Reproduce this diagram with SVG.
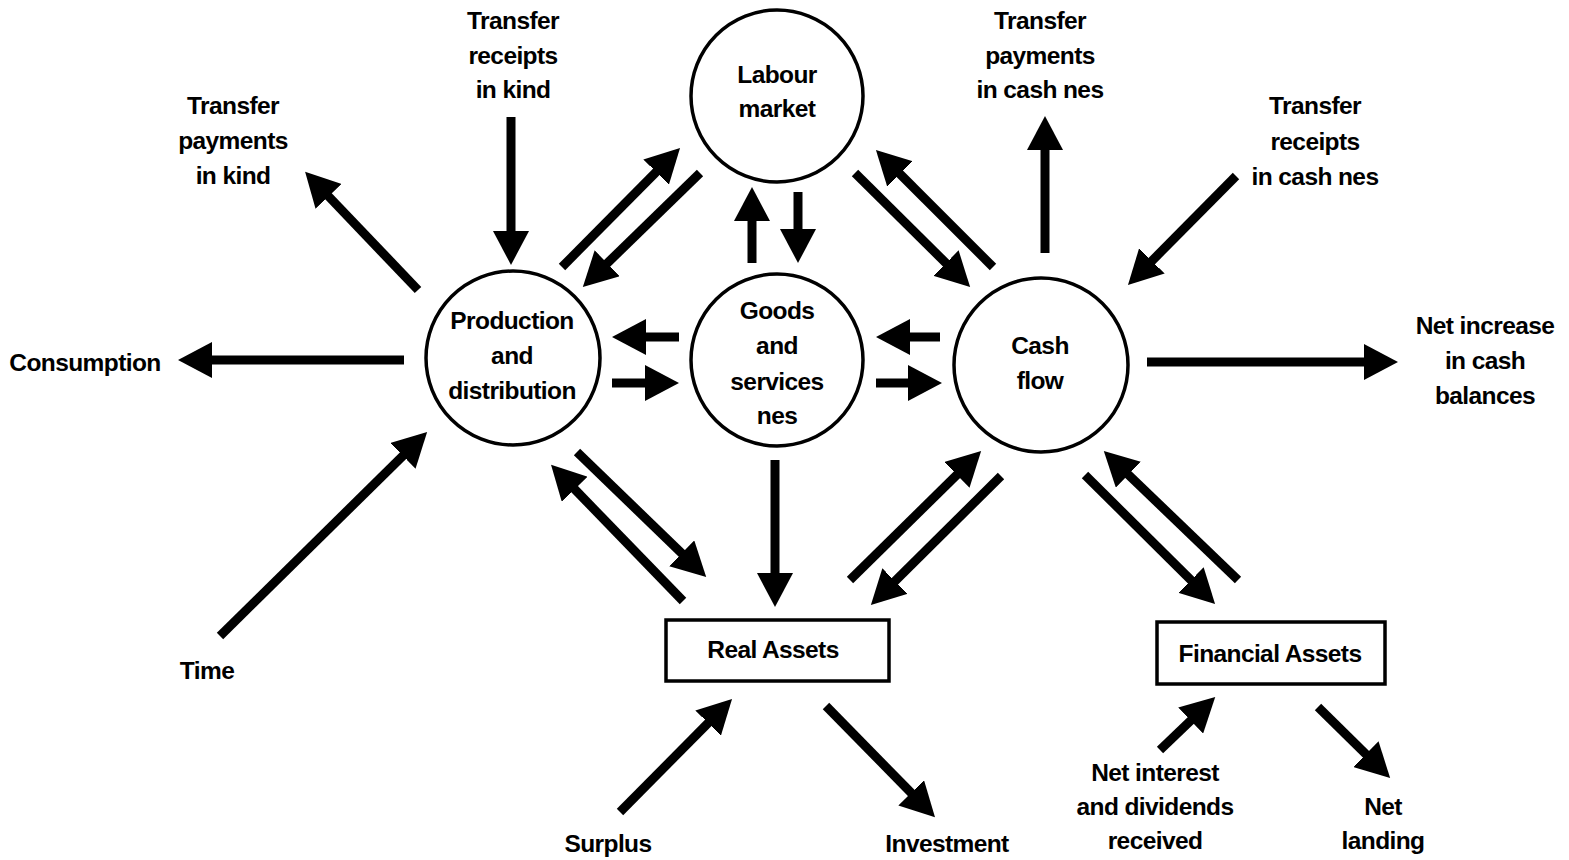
<svg xmlns="http://www.w3.org/2000/svg" width="1569" height="860" viewBox="0 0 1569 860">
<style>
.bg{fill:#fff}
.node{fill:#fff;stroke:#000;stroke-width:3.5}
.t{font-family:"Liberation Sans",Arial,sans-serif;font-weight:bold;font-size:24.5px;letter-spacing:-0.6px;fill:#000;text-anchor:middle}
.c line{stroke:#000;stroke-width:9;marker-end:url(#ah)}
</style>
<defs>
<marker id="ah" viewBox="0 0 34 36" refX="24" refY="18" markerWidth="34" markerHeight="36" markerUnits="userSpaceOnUse" orient="auto">
<path d="M0,0 L34,18 L0,36 Z" fill="#000"/>
</marker>
</defs>
<rect class="bg" x="0" y="0" width="1569" height="860"/>

<g id="connectors" class="c">
<line x1="511" y1="117" x2="511" y2="255"/>
<line x1="418" y1="290" x2="312" y2="179"/>
<line x1="404" y1="360" x2="188" y2="360"/>
<line x1="220" y1="636" x2="420" y2="439"/>
<line x1="562" y1="267" x2="673" y2="155"/>
<line x1="700" y1="173" x2="590" y2="280"/>
<line x1="752" y1="263" x2="752" y2="197"/>
<line x1="798" y1="192" x2="798" y2="253"/>
<line x1="679" y1="337" x2="622" y2="337"/>
<line x1="612" y1="383" x2="669" y2="383"/>
<line x1="940" y1="337" x2="886" y2="337"/>
<line x1="876" y1="383" x2="932" y2="383"/>
<line x1="855" y1="173" x2="963" y2="280"/>
<line x1="993" y1="267" x2="883" y2="157"/>
<line x1="1045" y1="253" x2="1045" y2="126"/>
<line x1="1236" y1="176" x2="1135" y2="278"/>
<line x1="1147" y1="362" x2="1388" y2="362"/>
<line x1="577" y1="452" x2="699" y2="570"/>
<line x1="683" y1="601" x2="558" y2="472"/>
<line x1="775" y1="460" x2="775" y2="597"/>
<line x1="850" y1="580" x2="974" y2="458"/>
<line x1="1001" y1="476" x2="878" y2="598"/>
<line x1="1085" y1="475" x2="1208" y2="597"/>
<line x1="1238" y1="580" x2="1111" y2="458"/>
<line x1="620" y1="812" x2="725" y2="706"/>
<line x1="826" y1="706" x2="928" y2="810"/>
<line x1="1160" y1="750" x2="1208" y2="704"/>
<line x1="1318" y1="707" x2="1383" y2="771"/>
</g>

<g id="labour">
<circle class="node" cx="777" cy="96" r="86"/>
<text class="t" x="777" y="83">Labour</text>
<text class="t" x="777" y="117">market</text>
</g>
<g id="production">
<circle class="node" cx="513" cy="358" r="87"/>
<text class="t" x="512" y="329">Production</text>
<text class="t" x="512" y="364">and</text>
<text class="t" x="512" y="399">distribution</text>
</g>
<g id="goods">
<circle class="node" cx="777" cy="360" r="86"/>
<text class="t" x="777" y="319">Goods</text>
<text class="t" x="777" y="354">and</text>
<text class="t" x="777" y="390">services</text>
<text class="t" x="777" y="424">nes</text>
</g>
<g id="cash">
<circle class="node" cx="1041" cy="365" r="87"/>
<text class="t" x="1040" y="354">Cash</text>
<text class="t" x="1040" y="389">flow</text>
</g>
<g id="real">
<rect class="node" x="666" y="620" width="223" height="61"/>
<text class="t" x="773" y="658">Real Assets</text>
</g>
<g id="financial">
<rect class="node" x="1157" y="622" width="228" height="62"/>
<text class="t" x="1270" y="662">Financial Assets</text>
</g>

<g id="tr-kind">
<text class="t" x="513" y="29">Transfer</text>
<text class="t" x="513" y="64">receipts</text>
<text class="t" x="513" y="98">in kind</text>
</g>
<g id="tp-kind">
<text class="t" x="233" y="114">Transfer</text>
<text class="t" x="233" y="149">payments</text>
<text class="t" x="233" y="184">in kind</text>
</g>
<g id="tp-cash">
<text class="t" x="1040" y="29">Transfer</text>
<text class="t" x="1040" y="64">payments</text>
<text class="t" x="1040" y="98">in cash nes</text>
</g>
<g id="tr-cash">
<text class="t" x="1315" y="114">Transfer</text>
<text class="t" x="1315" y="150">receipts</text>
<text class="t" x="1315" y="185">in cash nes</text>
</g>
<g id="consumption">
<text class="t" x="85" y="371">Consumption</text>
</g>
<g id="net-increase">
<text class="t" x="1485" y="334">Net increase</text>
<text class="t" x="1485" y="369">in cash</text>
<text class="t" x="1485" y="404">balances</text>
</g>
<g id="time">
<text class="t" x="207" y="679">Time</text>
</g>
<g id="surplus">
<text class="t" x="608" y="852">Surplus</text>
</g>
<g id="investment">
<text class="t" x="947" y="852">Investment</text>
</g>
<g id="net-interest">
<text class="t" x="1155" y="781">Net interest</text>
<text class="t" x="1155" y="815">and dividends</text>
<text class="t" x="1155" y="849">received</text>
</g>
<g id="net-landing">
<text class="t" x="1383" y="815">Net</text>
<text class="t" x="1383" y="849">landing</text>
</g>
</svg>
